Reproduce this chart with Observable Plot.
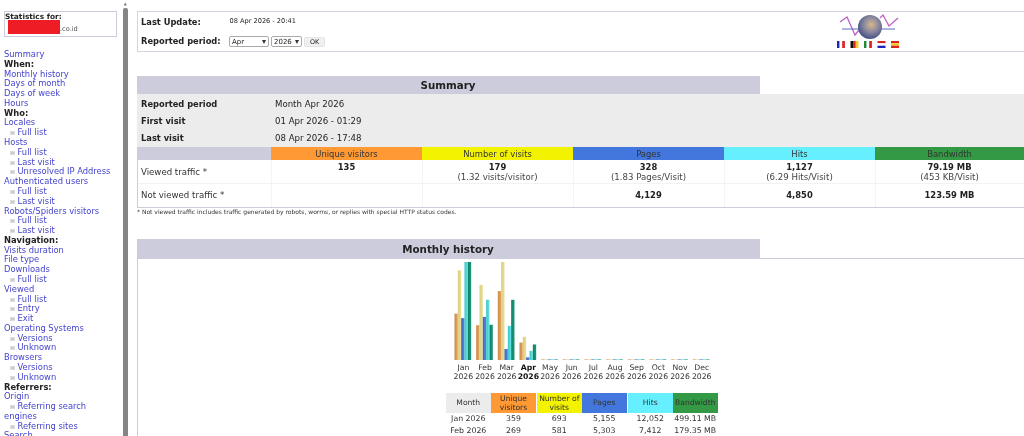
<!DOCTYPE html>
<html><head><meta charset="utf-8">
<script src="https://cdn.jsdelivr.net/npm/d3@7"></script>
<script src="https://cdn.jsdelivr.net/npm/@observablehq/plot@0.6"></script>
<style>
html,body{margin:0;padding:0;background:#fff;overflow:hidden;width:1024px;height:436px}
#page{position:relative;width:1024px;height:436px;overflow:hidden;font-family:"DejaVu Sans",sans-serif;color:#222;filter:blur(.35px)}
.t{position:absolute;white-space:nowrap;transform:translateY(-50%);line-height:1}
.c{transform:translate(-50%,-50%);text-align:center}
.b{position:absolute;box-sizing:border-box}
#nav{position:absolute;left:4px;top:50px;width:118px;font-size:8.35px;line-height:9.78px;color:#4444cc;white-space:nowrap}
#nav b{color:#222}
#nav i{display:inline-block;width:5px;height:4px;background:#ccc;margin:0 2.5px 0 6px;border:1px solid #ddd;box-sizing:border-box}
select{position:absolute;appearance:none;-webkit-appearance:none;font:7px "DejaVu Sans",sans-serif;height:11px;padding:0 0 0 2px;border:1px solid #aaa;background:#fff;color:#222;border-radius:2px}
#chart{position:absolute;left:451.7px;top:262px}
</style></head><body>
<div id="page"></div>
<script>
const months = ["Jan","Feb","Mar","Apr","May","Jun","Jul","Aug","Sep","Oct","Nov","Dec"];
const year = "2026";
const metrics = ["Unique visitors","Number of visits","Pages","Hits","Bandwidth"];
const visitors = [359,269,533,135,0,0,0,0,0,0,0,0];
const visits = [693,581,758,179,0,0,0,0,0,0,0,0];
const pages = [5155,5303,1357,328,0,0,0,0,0,0,0,0];
const hits = [12052,7412,4195,1127,0,0,0,0,0,0,0,0];
const bandwidth = [499.11,179.35,306.6,79.19,0,0,0,0,0,0,0,0];
const headerColors = ["#ff9933","#f3f300","#4477dd","#66f0ff","#339944"];
const navItems = ["Summary","*When:","Monthly history","Days of month","Days of week","Hours","*Who:","Locales","-Full list","Hosts","-Full list","-Last visit","-Unresolved IP Address","Authenticated users","-Full list","-Last visit","Robots/Spiders visitors","-Full list","-Last visit","*Navigation:","Visits duration","File type","Downloads","-Full list","Viewed","-Full list","-Entry","-Exit","Operating Systems","-Versions","-Unknown","Browsers","-Versions","-Unknown","*Referrers:","Origin","-Referring search","engines","-Referring sites","Search"];
const summaryRows = [["Reported period","Month Apr 2026"],["First visit","01 Apr 2026 - 01:29"],["Last visit","08 Apr 2026 - 17:48"]];
const viewedMain = ["135","179","328","1,127","79.19 MB"];
const viewedSub = ["","(1.32 visits/visitor)","(1.83 Pages/Visit)","(6.29 Hits/Visit)","(453 KB/Visit)"];
const notViewed = ["","","4,129","4,850","123.59 MB"];
const historyHead = ["Month","Unique\nvisitors","Number of\nvisits","Pages","Hits","Bandwidth"];
const historyRows = [["Jan 2026","359","693","5,155","12,052","499.11 MB"],["Feb 2026","269","581","5,303","7,412","179.35 MB"]];

const page = document.getElementById("page");
function T(x,y,s,size,o={}){const d=document.createElement("div");d.className="t"+(o.c?" c":"");
  d.style.cssText+=`left:${x}px;top:${y}px;font-size:${size}px;`+(o.b?"font-weight:bold;":"")+(o.col?`color:${o.col};`:"")+(o.css||"");
  d.textContent=s;page.append(d);return d;}
function B(x,y,w,h,css){const d=document.createElement("div");d.className="b";d.style.cssText+=`left:${x}px;top:${y}px;width:${w}px;height:${h}px;${css}`;page.append(d);return d;}
const line="#ccccdd";

// sidebar
B(4,11,113,26,`border:1px solid ${line}`);
T(5,17,"Statistics for:",7.4,{b:1});
B(8,20,52,13.5,"background:#ee1c25");
T(60,28.5,".co.id",6.6,{col:"#555"});
const nav=document.createElement("div");nav.id="nav";
nav.innerHTML=navItems.map(s=>s[0]=="*"?`<b>${s.slice(1)}</b>`:s[0]=="-"?`<i></i>${s.slice(1)}`:s).join("<br>");
page.append(nav);
B(123,8,4.5,428,"background:#858585;border-radius:2px 2px 0 0");
T(125.2,3.5,"▲",4,{c:1,col:"#777"});

// top box
B(137,11,887,41,"border:1px solid #d4d4e2;border-right:0");
T(141,21.5,"Last Update:",8.3,{b:1});
T(229.5,21,"08 Apr 2026 - 20:41",6.6);
T(141,41,"Reported period:",8.3,{b:1});
const s1=document.createElement("select");s1.innerHTML="<option>Apr</option>";s1.style.cssText="left:229px;top:36px;width:40px";page.append(s1);
const s2=document.createElement("select");s2.innerHTML="<option>2026</option>";s2.style.cssText="left:271px;top:36px;width:31px";page.append(s2);
T(264,41.5,"▾",8,{c:1,col:"#333"});
T(297,41.5,"▾",8,{c:1,col:"#333"});
B(304,37,21,10,"background:#f0f0f0;border:1px solid #e4e4e4;border-radius:2px");
T(314.5,42,"OK",6.4,{c:1});

// logo
const logo=document.createElement("div");logo.style.cssText="position:absolute;left:820px;top:5px";
logo.innerHTML=`<svg width="90" height="50" viewBox="0 0 90 50">
<defs><radialGradient id="gl" cx=".55" cy=".4" r=".7"><stop offset="0" stop-color="#d8b88a"/><stop offset=".45" stop-color="#8a88a0"/><stop offset="1" stop-color="#2c3f78"/></radialGradient></defs>
<polyline points="20,17 27,12 35,30 39,25" fill="none" stroke="#c060c8" stroke-width="1.3"/>
<polyline points="60,13 63,10 69,21 78,13" fill="none" stroke="#c060c8" stroke-width="1.3"/>
<line x1="22" y1="24" x2="75" y2="24" stroke="#5a6fc0" stroke-width="1.2"/>
<circle cx="50" cy="22" r="12" fill="url(#gl)"/>
<g>${[["#22b","#fff","#d22"],["#111","#d22","#ec2"],["#283","#fff","#d22"]].map((c,i)=>c.map((k,j)=>`<rect x="${17+i*13.5+j*2.6}" y="36" width="2.7" height="7" fill="${k}"/>`).join("")).join("")}
${[["#d22","#fff","#22b"],["#d22","#ec2","#d22"]].map((c,i)=>{const h=[2.3,2.4,2.3],y=[36,38.3,40.7];return c.map((k,j)=>`<rect x="${57.5+i*13.5}" y="${y[j]}" width="8" height="${h[j]}" fill="${k}"/>`).join("")}).join("")}</g></svg>`;
page.append(logo);

// summary
B(137,76,623,18.5,`background:${line}`);
T(448,85,"Summary",10.3,{b:1,c:1});
B(137,94,887,53,"background:#ececec");
const sy=[103.5,120.5,138];
summaryRows.forEach((r,i)=>{T(141,sy[i],r[0],8.3,{b:1});T(275,sy[i],r[1],8.6);});
B(137,147,887,60.5,`border-left:1px solid ${line};border-bottom:1px solid ${line}`);
B(138,147,133,13,`background:${line}`);
const cx=[271,422,573,724,875,1024];
metrics.forEach((m,i)=>{B(cx[i],147,cx[i+1]-cx[i],13,`background:${headerColors[i]}`);
  T((cx[i]+cx[i+1])/2,153.5,m,8.4,{c:1,col:"#333"});
  T((cx[i]+cx[i+1])/2,166.5,viewedMain[i],8.4,{c:1,b:1});
  if(viewedSub[i])T((cx[i]+cx[i+1])/2,176.5,viewedSub[i],8.6,{c:1,col:"#444"});
  if(notViewed[i])T((cx[i]+cx[i+1])/2,195,notViewed[i],8.4,{c:1,b:1});
  B(cx[i],160,1,47,"background:#f4f4f4");
});
B(138,183,886,1,"background:#f2f2f2");
T(141,171.5,"Viewed traffic *",8.6,{col:"#333"});
T(141,195,"Not viewed traffic *",8.6,{col:"#333"});
T(137,211.5,"* Not viewed traffic includes traffic generated by robots, worms, or replies with special HTTP status codes.",6,{col:"#333"});

// monthly history
B(137,239,623,19,`background:${line}`);
T(448,248.5,"Monthly history",10.3,{b:1,c:1});
B(137,258,887,178,`border-left:1px solid ${line};border-top:1px solid ${line}`);
const hx=[446,491,537,582,628,673], hw=[44.5,45,44.5,44.5,44.5,44.5];
historyHead.forEach((h,i)=>{
  B(hx[i],393,hw[i],20,`background:${i?headerColors[i-1]:"#ececec"}`);
  const lines=h.split("\n");
  lines.forEach((l,j)=>T(hx[i]+hw[i]/2,lines.length>1?398.5+j*9.5:403,l,7.6,{c:1,col:"#333"}));
});
historyRows.forEach((r,k)=>r.forEach((v,i)=>T(hx[i]+hw[i]/2,419+k*11.6,v,7.8,{c:1,col:"#333"})));

// chart
const series=[[visitors,758],[visits,758],[pages,12052],[hits,12052],[bandwidth,499.11]];
const rows=months.flatMap((month,mi)=>metrics.map((metric,si)=>({month,metric,
  h:Math.max(series[si][0][mi]/series[si][1],0.006)})));
const gradients=[["#c98a46","#e6a862"],["#d9cd80","#eadf98"],["#3f63bd","#5c86e0"],["#35c4c8","#6fe6e6"],["#0e7f62","#1f9a7c"]];
const defs=()=>{const s=d3.create("svg:defs");
  gradients.forEach((g,i)=>{const l=s.append("linearGradient").attr("id","bar"+i);
    l.append("stop").attr("offset","0").attr("stop-color",g[0]);
    l.append("stop").attr("offset","1").attr("stop-color",g[1]);});
  return s.node();};
const chart=Plot.plot({
  width:260,height:124,marginLeft:0,marginRight:0,marginTop:0,marginBottom:26,
  style:{fontFamily:"'DejaVu Sans',sans-serif",background:"transparent",color:"#333"},
  fx:{domain:months,padding:.23,paddingOuter:.115,round:false,axis:null,label:null},
  x:{domain:metrics,padding:0,round:false,axis:null},
  y:{domain:[0,1],axis:null},
  color:{domain:metrics,range:gradients.map((g,i)=>`url(#bar${i})`)},
  marks:[
    defs,
    Plot.barY(rows,{fx:"month",x:"metric",y:"h",fill:"metric"}),
    Plot.axisFx({ticks:months.filter(m=>m!="Apr"),anchor:"bottom",tickSize:0,tickPadding:3,fontSize:7.7,lineHeight:1.2,label:null,tickFormat:m=>m+"\n"+year}),
    Plot.axisFx({ticks:["Apr"],anchor:"bottom",tickSize:0,tickPadding:3,fontSize:7.7,lineHeight:1.2,fontWeight:"bold",fill:"#111",label:null,tickFormat:m=>m+"\n"+year})
  ]});
chart.id="chart";
page.append(chart);
</script></body></html>
